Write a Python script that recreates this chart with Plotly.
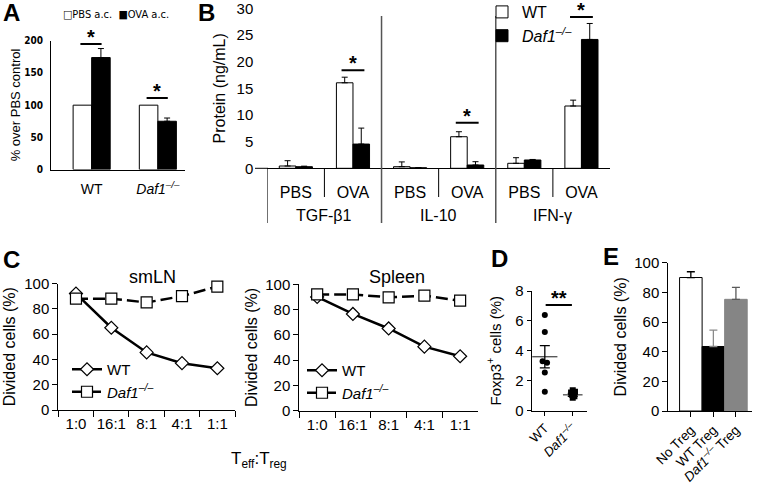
import plotly.graph_objects as go

W, H = 761, 484
FONT = "Arial, Liberation Sans, sans-serif"
NARROW = "Liberation Sans Narrow, Arial Narrow, DejaVu Sans Condensed, sans-serif"
KO = "<i>Daf1</i><sup><i>–/–</i></sup>"

# ---- data ----
# A: % over PBS control
a_groups = ["WT", KO]
a_pbs = [100, 100]
a_ova = [174, 75]
a_ova_err = [14, 5]
a_sig = [195, 111]

# B: protein (ng/mL)
b_cytokines = ["TGF-β1", "IL-10", "IFN-γ"]
b_conditions = ["PBS", "OVA", "PBS", "OVA", "PBS", "OVA"]
b_wt = [0.43, 16.06, 0.3, 5.93, 0.94, 11.7]
b_wt_err = [1.0, 1.05, 0.9, 0.94, 1.05, 1.1]
b_ko = [0.3, 4.55, 0.1, 0.62, 1.56, 24.2]
b_ko_err = [0.1, 3.0, 0.0, 0.62, 0.1, 3.0]
b_sig = {1: 18.4, 3: 8.55, 5: 28.4}

# C: divided cells (%) vs Teff:Treg
c_ratios = ["1:0", "16:1", "8:1", "4:1", "1:1"]
c_smln_wt = [92, 65, 45.5, 37, 33]
c_smln_ko = [88, 88, 85, 90, 97.6]
c_spleen_wt = [90, 76.5, 65, 50.6, 43]
c_spleen_ko = [92, 92, 89.7, 91, 87]

# D: Foxp3+ cells (%)
d_wt = [6.4, 5.25, 3.3, 3.2, 2.55, 1.25]
d_wt_x = [0, 0, -0.08, 0.08, 0, 0]
d_ko = [1.35, 1.25, 1.2, 1.1, 1.05, 0.95, 0.85]
d_ko_x = [1.0, 1.08, 0.94, 1.05, 0.97, 1.06, 1.0]
d_mean = [3.6, 1.05]
d_sem = [0.74, 0.1]
d_sig = 7.06

# E: divided cells (%)
e_groups = ["No Treg", "WT Treg", KO + " Treg"]
e_vals = [90, 43.5, 75.3]
e_err = [3.9, 11, 8]
e_colors = ["white", "black", "#858585"]
e_err_colors = ["black", "#8a8a8a", "#5a5a5a"]


def X(px):
    return px / W


def Y(py):
    return 1 - py / H


fig = go.Figure()

# ---- A ----
fig.add_trace(go.Bar(x=a_groups, y=a_pbs, width=0.28, offset=-0.28,
                     marker=dict(color="white", line=dict(color="black", width=1)),
                     xaxis="x", yaxis="y", showlegend=False))
fig.add_trace(go.Bar(x=a_groups, y=a_ova, width=0.28, offset=0,
                     marker=dict(color="black", line=dict(color="black", width=1)),
                     error_y=dict(type="data", array=a_ova_err, arrayminus=[0, 0],
                                  color="black", thickness=1, width=3),
                     xaxis="x", yaxis="y", showlegend=False))

# ---- B ----
bx = list(range(len(b_conditions)))
fig.add_trace(go.Bar(x=bx, y=b_wt, width=0.29, offset=-0.29, name="WT",
                     marker=dict(color="white", line=dict(color="black", width=1)),
                     error_y=dict(type="data", array=b_wt_err, arrayminus=[0] * 6,
                                  color="black", thickness=1, width=3),
                     xaxis="x2", yaxis="y2", legend="legend"))
fig.add_trace(go.Bar(x=bx, y=b_ko, width=0.29, offset=0, name=KO,
                     marker=dict(color="black", line=dict(color="black", width=1)),
                     error_y=dict(type="data", array=b_ko_err, arrayminus=[0] * 6,
                                  color="black", thickness=1, width=3),
                     xaxis="x2", yaxis="y2", legend="legend"))

# ---- C ----
for i, (wt, ko) in enumerate([(c_smln_wt, c_smln_ko), (c_spleen_wt, c_spleen_ko)]):
    xa, ya, lg = ("x3", "y3", "legend2") if i == 0 else ("x4", "y4", "legend3")
    fig.add_trace(go.Scatter(x=c_ratios, y=wt, mode="lines+markers", name="WT",
                             line=dict(color="black", width=2.5), cliponaxis=False,
                             marker=dict(symbol="diamond", size=10, color="white",
                                         line=dict(color="black", width=1.2)),
                             xaxis=xa, yaxis=ya, legend=lg))
    fig.add_trace(go.Scatter(x=c_ratios, y=ko, mode="lines+markers", name=KO,
                             line=dict(color="black", width=2.5, dash="12px,5px"),
                             cliponaxis=False,
                             marker=dict(symbol="square", size=11, color="white",
                                         line=dict(color="black", width=1.2)),
                             xaxis=xa, yaxis=ya, legend=lg))

# ---- D ----
fig.add_trace(go.Scatter(x=d_wt_x, y=d_wt, mode="markers",
                         marker=dict(symbol="circle", size=6, color="black"),
                         xaxis="x5", yaxis="y5", showlegend=False))
fig.add_trace(go.Scatter(x=d_ko_x, y=d_ko, mode="markers",
                         marker=dict(symbol="square", size=6, color="black"),
                         xaxis="x5", yaxis="y5", showlegend=False))
fig.add_trace(go.Scatter(x=[0, 1], y=d_mean, mode="markers",
                         marker=dict(symbol="line-ew", size=[18, 14],
                                     line=dict(color="black", width=1.3)),
                         error_y=dict(type="data", array=d_sem, color="black",
                                      thickness=1.3, width=5),
                         xaxis="x5", yaxis="y5", showlegend=False))

# ---- E ----
for g, v, err, c, ec in zip(e_groups, e_vals, e_err, e_colors, e_err_colors):
    fig.add_trace(go.Bar(x=[g], y=[v], width=1,
                         marker=dict(color=c, line=dict(color="black" if c == "white" else c, width=1)),
                         error_y=dict(type="data", array=[err], arrayminus=[0],
                                      color=ec, thickness=1.3, width=4),
                         xaxis="x6", yaxis="y6", showlegend=False))

# ---- annotations and shapes ----
ann = []
shapes = []


def text_at(t, x, y, size, family=FONT, xanchor="center"):
    ann.append(dict(text=t, x=X(x), y=Y(y), xref="paper", yref="paper",
                    xanchor=xanchor, yanchor="middle", showarrow=False,
                    font=dict(family=family, size=size, color="black")))


for t, x, y in [("A", 11, 13), ("B", 207, 13), ("C", 12, 259), ("D", 499, 258), ("E", 611, 256)]:
    text_at("<b>%s</b>" % t, x, y, 24)


def star(xref, yref, x0, x1, y, txt="*"):
    shapes.append(dict(type="line", xref=xref, yref=yref, x0=x0, x1=x1, y0=y, y1=y,
                       line=dict(color="black", width=2)))
    ann.append(dict(text="<b>%s</b>" % txt, x=(x0 + x1) / 2, y=y, xref=xref, yref=yref,
                    xanchor="center", yanchor="bottom", yshift=-6, showarrow=False,
                    font=dict(family=FONT, size=20, color="black")))


star("x", "y", -0.17, 0.15, a_sig[0])
star("x", "y", 0.83, 1.15, a_sig[1])
for k, v in b_sig.items():
    star("x2", "y2", k - 0.2, k + 0.2, v)
star("x5", "y5", 0.03, 0.97, d_sig, "**")

# A legend
text_at("□PBS a.c.  ■OVA a.c.", 61, 14, 11, NARROW, "left")

# B category group labels and divider lines
for i, name in enumerate(b_cytokines):
    ann.append(dict(text=name, x=2 * i + 0.5, y=Y(215), xref="x2", yref="paper",
                    xanchor="center", yanchor="middle", showarrow=False,
                    font=dict(family=FONT, size=16, color="black")))
shapes.append(dict(type="line", xref="paper", yref="paper", x0=X(255), x1=X(268),
                   y0=Y(168.3), y1=Y(168.3), line=dict(color="black", width=1)))
shapes.append(dict(type="line", xref="x2", yref="paper", x0=-0.5, x1=-0.5,
                   y0=Y(168.3), y1=Y(223), line=dict(color="black", width=1)))
for xb in [0.5, 2.5, 4.5]:
    shapes.append(dict(type="line", xref="x2", yref="paper", x0=xb, x1=xb,
                       y0=Y(168.3), y1=Y(197), line=dict(color="black", width=1)))
for xb in [1.5, 3.5]:
    shapes.append(dict(type="line", xref="x2", yref="paper", x0=xb, x1=xb,
                       y0=Y(16), y1=Y(223), line=dict(color="#555555", width=1.5)))

# C titles
text_at("smLN", 152, 277, 18)
text_at("Spleen", 397, 277, 18)
text_at("T<sub>eff</sub>:T<sub>reg</sub>", 259, 460, 17)

axis_common = dict(showgrid=False, zeroline=False, linecolor="black", linewidth=1,
                   automargin=False, tickcolor="black", ticklabeloverflow="allow",
                   tickfont=dict(family=FONT, size=15, color="black"))

legend_common = dict(bgcolor="rgba(0,0,0,0)", borderwidth=0, xanchor="left", yanchor="top",
                     font=dict(family=FONT, size=15, color="black"), tracegroupgap=0,
                     itemclick=False)

fig.update_layout(
    width=W, height=H, margin=dict(l=0, r=0, t=0, b=0, autoexpand=False),
    paper_bgcolor="white", plot_bgcolor="white", hovermode=False,
    barmode="overlay", font=dict(family=FONT, color="black"),
    # A
    xaxis=dict(axis_common, domain=[X(51), X(185)], range=[-0.614, 1.41], showline=True,
               ticks="outside", ticklen=7, tickcolor="rgba(0,0,0,0)",
               tickfont=dict(family=FONT, size=14, color="black"), anchor="y"),
    yaxis=dict(axis_common, domain=[Y(169.5), Y(40.5)], range=[0, 200.5], dtick=50, showline=True,
               ticks="outside", ticklen=5, tickcolor="rgba(0,0,0,0)",
               tickfont=dict(family=NARROW, size=10, color="black", weight="bold"),
               title=dict(text="% over PBS control", font=dict(family=FONT, size=13), standoff=0),
               anchor="x"),
    # B
    xaxis2=dict(axis_common, domain=[X(267.3), X(610)], range=[-0.5, 5.5], showline=True,
                tickvals=bx, ticktext=b_conditions, ticks="outside", ticklen=9,
                tickcolor="rgba(0,0,0,0)", tickfont=dict(family=FONT, size=16, color="black"),
                anchor="y2"),
    yaxis2=dict(axis_common, domain=[Y(168.3), Y(8.3)], range=[0, 30.05], dtick=5, showline=False,
                ticks="outside", ticklen=10, tickcolor="rgba(0,0,0,0)",
                title=dict(text="Protein (ng/mL)", font=dict(family=FONT, size=16), standoff=7),
                anchor="x2"),
    # C smLN
    xaxis3=dict(axis_common, domain=[X(58.3), X(235)], type="category", categoryorder="array",
                categoryarray=c_ratios, range=[-0.5, 4.5], showline=True, ticks="outside",
                tickson="boundaries", ticklen=6, tickangle=0, anchor="y3"),
    yaxis3=dict(axis_common, domain=[Y(410), Y(283.5)], range=[0, 100], dtick=20, showline=True,
                ticks="outside", ticklen=5,
                title=dict(text="Divided cells (%)", font=dict(family=FONT, size=16), standoff=4),
                anchor="x3"),
    # C spleen
    xaxis4=dict(axis_common, domain=[X(299.3), X(478)], type="category", categoryorder="array",
                categoryarray=c_ratios, range=[-0.5, 4.5], showline=True, ticks="outside",
                tickson="boundaries", ticklen=6, tickangle=0, anchor="y4"),
    yaxis4=dict(axis_common, domain=[Y(410.5), Y(284.3)], range=[0, 100], dtick=20, showline=True,
                ticks="outside", ticklen=5,
                title=dict(text="Divided cells (%)", font=dict(family=FONT, size=16), standoff=3),
                anchor="x4"),
    # D
    xaxis5=dict(axis_common, domain=[X(531.7), X(586.7)], range=[-0.47, 1.5], showline=True,
                tickvals=[0, 1], ticktext=["WT", KO], tickangle=-45, ticks="outside", ticklen=4,
                tickfont=dict(family=FONT, size=13, color="black"), anchor="y5"),
    yaxis5=dict(axis_common, domain=[Y(410.5), Y(291)], range=[0, 8], dtick=2, showline=True,
                ticks="outside", ticklen=4,
                title=dict(text="Foxp3<sup>+</sup> cells (%)", font=dict(family=FONT, size=15),
                           standoff=10),
                anchor="x5"),
    # E
    xaxis6=dict(axis_common, domain=[X(668.3), X(751.7)], type="category", categoryorder="array",
                categoryarray=e_groups, range=[-1, 2.7], showline=True, tickangle=-45,
                ticks="outside", ticklen=5, tickfont=dict(family=FONT, size=13.5, color="black"),
                anchor="y6"),
    yaxis6=dict(axis_common, domain=[Y(411), Y(262.7)], range=[0, 100], dtick=20, showline=True,
                ticks="outside", ticklen=5,
                title=dict(text="Divided cells (%)", font=dict(family=FONT, size=16), standoff=3),
                anchor="x6"),
    legend=dict(legend_common, x=X(482), y=Y(-5), font=dict(family=FONT, size=16, color="black")),
    legend2=dict(legend_common, x=X(67), y=Y(353)),
    legend3=dict(legend_common, x=X(302), y=Y(354)),
    annotations=ann,
    shapes=shapes,
)

fig.write_html("out.html", config={"displayModeBar": False, "staticPlot": True},
               post_script="document.body.style.margin='0';")
